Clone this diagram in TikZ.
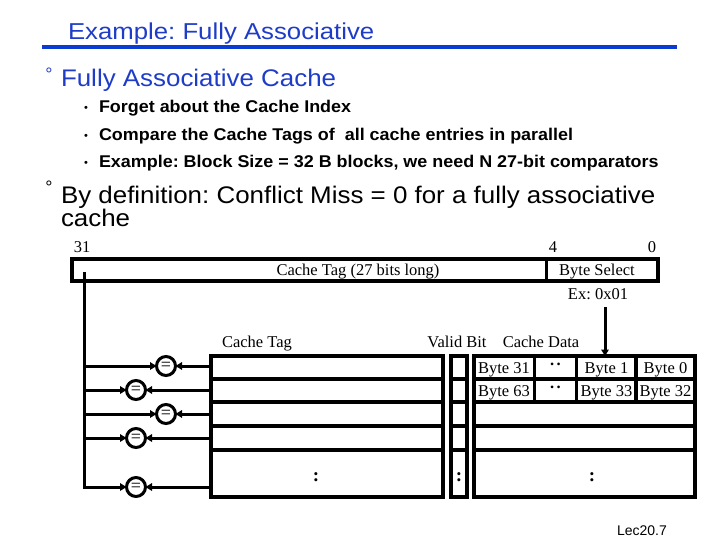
\documentclass[tikz,border=0pt]{standalone}
\usepackage{fontspec}
\setmainfont{Liberation Serif}
\setsansfont{Liberation Sans}
\newfontfamily\titlefont[FakeStretch=1.12]{Liberation Sans}
\newfontfamily\itemfont[FakeStretch=1.08]{Liberation Sans}
\newfontfamily\pointfont[FakeStretch=1.055]{Liberation Sans}
\usepackage{tikz}
\usetikzlibrary{arrows.meta, positioning}
\definecolor{slide_blue}{HTML}{1E3CC8}
\definecolor{rule_blue}{HTML}{0A3CD2}
\newcommand{\diagfont}{\fontsize{16.5}{18}\selectfont}
\frenchspacing

\begin{document}
\begin{tikzpicture}[
    line join=miter,
    every node/.style={inner sep=0pt, outer sep=0pt},
    wire/.style={line width=3pt, -{Triangle[length=6.5pt, width=7.5pt]}},
    frame/.style={draw, line width=3.5pt},
    rowline/.style={line width=3.5pt},
    cmp/.style={circle, draw, line width=3pt, minimum size=19pt, fill=white, font=\fontsize{18}{18}\selectfont},
    lbl/.style={font=\diagfont, anchor=base},
    heading/.style={font=\itemfont\fontsize{24}{19.5}\selectfont},
    point/.style={font=\pointfont\bfseries\fontsize{17}{17}\selectfont, anchor=base west}
]

% Pixel grid, y running down
\begin{scope}[x=1pt, y=-1pt]

\useasboundingbox (0,0) rectangle (720,540);

% Slide title and rule
\node[font=\titlefont\fontsize{23}{23}\selectfont, anchor=base west, slide_blue] (title) at (68,40) {Example: Fully Associative};
\fill[rule_blue] (42,45) rectangle (677,49);

% First level items
\node[font=\sffamily\fontsize{18}{18}\selectfont, anchor=base, slide_blue] (deg1) at (49,80.5) {°};
\node[heading, anchor=base west, slide_blue] (item1) at (61,87) {Fully Associative Cache};
\node[font=\sffamily\fontsize{18}{18}\selectfont, anchor=base] (deg2) at (49,193.5) {°};
\node[heading, anchor=south west, align=left] (item2) at (61,227)
    {By definition: Conflict Miss = 0 for a fully associative\\cache};

% Second level items
\foreach \n/\yb/\txt in {1/113/{Forget about the Cache Index},
                        2/140.5/{Compare the Cache Tags of \ all cache entries in parallel},
                        3/168/{Example: Block Size = 32 B blocks, we need N 27-bit comparators}} {
  \node[font=\sffamily\fontsize{11}{11}\selectfont, anchor=base] (dot\n) at (86,\yb-1) {•};
  \node[point] (sub\n) at (99,\yb) {\txt};
}

% Address word
\node[lbl] (bit31) at (82,252.5) {31};
\node[lbl] (bit4) at (553,252.5) {4};
\node[lbl] (bit0) at (652,252.5) {0};
\node[frame, anchor=north west, minimum width=474.7, minimum height=22] (tagfield) at (72,259) {};
\node[frame, anchor=north west, minimum width=111.3, minimum height=22] (selfield) at (546.7,259) {};
\node[lbl] (tagtext) at (358,275.5) {Cache Tag (27 bits long)};
\node[lbl] (seltext) at (597,275.5) {Byte Select};
\node[lbl] (ex) at (598,299.5) {Ex: 0x01};

% Array headers
\node[lbl] (taghead) at (257,347) {Cache Tag};
\node[lbl] (validhead) at (457,347) {Valid Bit};
\node[lbl] (datahead) at (541,347) {Cache Data};

% Tag, valid and data arrays
\node[frame, anchor=north west, minimum width=232, minimum height=141] (tag) at (211,356) {};
\node[frame, anchor=north west, minimum width=16, minimum height=141] (valid) at (451,356) {};
\node[frame, anchor=north west, minimum width=221, minimum height=141] (data) at (474,356) {};

% Row lines
\foreach \y in {379,402,426,450} {
  \draw[rowline] (211,\y) -- (443,\y);
  \draw[rowline] (451,\y) -- (467,\y);
  \draw[rowline] (474,\y) -- (695,\y);
}

% Byte columns of the first two rows
\foreach \x in {534.3,576.7,636} {
  \draw[rowline] (\x,356) -- (\x,402);
}
\node[lbl] (b31) at (504,373) {Byte 31};
\node[lbl] (b1) at (606.5,373) {Byte 1};
\node[lbl] (b0) at (665.5,373) {Byte 0};
\node[lbl] (b63) at (504,396) {Byte 63};
\node[lbl] (b33) at (606.5,396) {Byte 33};
\node[lbl] (b32) at (665.5,396) {Byte 32};
\node[font=\diagfont\bfseries] (gap1) at (555.5,364) {.\hspace{2.5pt}.};
\node[font=\diagfont\bfseries] (gap2) at (555.5,387) {.\hspace{2.5pt}.};

% More rows follow
\node[font=\fontsize{19}{19}\selectfont\bfseries] (tagmore) at (316,477) {:};
\node[font=\fontsize{19}{19}\selectfont\bfseries] (validmore) at (459,477) {:};
\node[font=\fontsize{19}{19}\selectfont\bfseries] (datamore) at (592,477) {:};

% Comparators
\foreach \n/\x/\y in {1/166/366, 2/136/390, 3/166/414, 4/136/438, 5/136/487} {
  \node[cmp] (cmp\n) at (\x,\y) {=};
}

% Tag bus into the comparators
\coordinate (busTop) at (84,272);
\draw[wire] (busTop) |- (cmp5);
\foreach \n in {1,...,4} {
  \draw[wire] (busTop |- cmp\n) -- (cmp\n);
}

% Stored tags into the comparators
\foreach \n in {1,...,5} {
  \draw[wire] (tag.west |- cmp\n) -- (cmp\n);
}

% Byte select pointer
\coordinate (selTop) at (605,307);
\draw[wire] (selTop) -- (selTop |- data.north);

% Page number
\node[font=\sffamily\fontsize{14}{14}\selectfont, anchor=base] (page) at (642,535) {Lec20.7};

\end{scope}
\end{tikzpicture}
\end{document}
